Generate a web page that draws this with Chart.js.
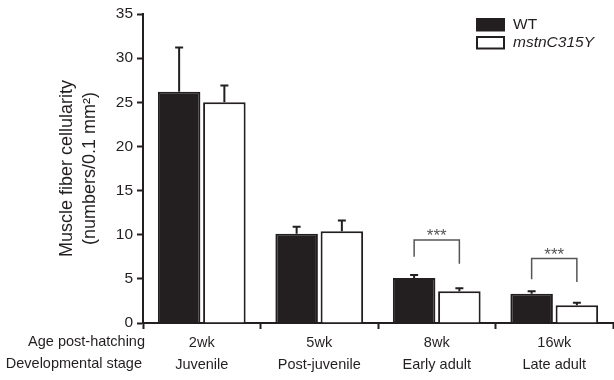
<!DOCTYPE html>
<html>
<head>
<meta charset="utf-8">
<script src="https://cdn.jsdelivr.net/npm/chart.js@4"></script>
<style>
  body { margin: 0; background: #fff; }
  #wrap { width: 614px; height: 380px; }
</style>
</head>
<body>
<div id="wrap"><canvas id="chart" width="614" height="380"></canvas></div>
<script>
const ages = ["2wk", "5wk", "8wk", "16wk"];
const stages = ["Juvenile", "Post-juvenile", "Early adult", "Late adult"];
const wtMean = [26.2, 10.1, 5.1, 3.3];
const wtSem = [5.0, 0.8, 0.35, 0.3];
const mutMean = [25.0, 10.4, 3.6, 2.0];
const mutSem = [1.9, 1.2, 0.35, 0.3];
const yTicks = [0, 5, 10, 15, 20, 25, 30, 35];

// significance brackets: category index, top of bracket, bottom of left / right legs
const sigIndex = [2, 3];
const sigTop = [9.4, 7.3];
const sigLeft = [7.5, 4.95];
const sigRight = [6.7, 4.65];
const sigText = ["***", "***"];

const ink = "#231f20";
const fontFamily = "'Liberation Sans', Arial, Helvetica, sans-serif";

const labels = ages.map((a, i) => [a, stages[i]]);

const errorBars = {
    id: "errorBars",
    afterDatasetsDraw(chart) {
        const ctx = chart.ctx;
        const y = chart.scales.y;
        const sems = [wtSem, mutSem];
        const means = [wtMean, mutMean];
        ctx.save();
        ctx.strokeStyle = ink;
        ctx.lineWidth = 2;
        chart.data.datasets.forEach((ds, d) => {
            const meta = chart.getDatasetMeta(d);
            meta.data.forEach((bar, i) => {
                const top = y.getPixelForValue(means[d][i] + sems[d][i]);
                const base = y.getPixelForValue(means[d][i]);
                ctx.beginPath();
                ctx.moveTo(bar.x, base);
                ctx.lineTo(bar.x, top);
                ctx.moveTo(bar.x - 4, top);
                ctx.lineTo(bar.x + 4, top);
                ctx.stroke();
            });
        });

        // brackets
        ctx.strokeStyle = "#555";
        ctx.lineWidth = 1.5;
        ctx.fillStyle = "#555";
        ctx.font = "17px " + fontFamily;
        ctx.textAlign = "center";
        ctx.textBaseline = "alphabetic";
        sigIndex.forEach((c, k) => {
            const x1 = chart.getDatasetMeta(0).data[c].x;
            const x2 = chart.getDatasetMeta(1).data[c].x;
            const yt = y.getPixelForValue(sigTop[k]);
            ctx.beginPath();
            ctx.moveTo(x1, y.getPixelForValue(sigLeft[k]));
            ctx.lineTo(x1, yt);
            ctx.lineTo(x2, yt);
            ctx.lineTo(x2, y.getPixelForValue(sigRight[k]));
            ctx.stroke();
            ctx.fillText(sigText[k], (x1 + x2) / 2, yt + 1);
        });

        // row headers under the x axis
        ctx.fillStyle = ink;
        ctx.font = "14.5px " + fontFamily;
        ctx.textAlign = "right";
        ctx.textBaseline = "middle";
        ctx.fillText("Age post-hatching", 145, 341.5);
        ctx.fillText("Developmental stage", 142, 363.5);

        // legend
        ctx.font = "15.5px " + fontFamily;
        ctx.textAlign = "left";
        ctx.fillStyle = ink;
        ctx.fillRect(476, 18, 29, 13.5);
        ctx.fillStyle = "#fff";
        ctx.fillRect(477, 36, 27, 13);
        ctx.strokeStyle = ink;
        ctx.lineWidth = 2;
        ctx.strokeRect(477, 37, 27, 11.5);
        ctx.fillStyle = ink;
        ctx.fillText("WT", 513, 25);
        ctx.font = "italic 15.5px " + fontFamily;
        ctx.fillText("mstnC315Y", 513, 43);
        ctx.restore();
    }
};

new Chart(document.getElementById("chart"), {
    type: "bar",
    data: {
        labels: labels,
        datasets: [
            {
                label: "WT",
                data: wtMean,
                backgroundColor: ink,
                borderColor: ink,
                borderWidth: 2,
                categoryPercentage: 0.77,
                barPercentage: 0.94
            },
            {
                label: "mstnC315Y",
                data: mutMean,
                backgroundColor: "#ffffff",
                borderColor: ink,
                borderWidth: 2,
                categoryPercentage: 0.77,
                barPercentage: 0.94
            }
        ]
    },
    options: {
        responsive: false,
        animation: false,
        layout: { padding: { top: 14, left: 0, right: 1, bottom: 0 } },
        plugins: {
            legend: { display: false },
            tooltip: { enabled: false }
        },
        scales: {
            x: {
                afterFit: s => { s.height = 57; },
                border: { color: ink, width: 2 },
                grid: { offset: true, drawOnChartArea: false, tickLength: 6, tickWidth: 2, tickColor: ink },
                ticks: {
                    color: ink,
                    padding: 3,
                    font: { family: fontFamily, size: 14.5, lineHeight: 1.52 },
                    maxRotation: 0,
                    autoSkip: false
                }
            },
            y: {
                min: 0,
                max: 35,
                afterFit: s => { s.width = 143; },
                afterBuildTicks: s => { s.ticks = yTicks.map(v => ({ value: v })); },
                border: { color: ink, width: 2 },
                grid: { drawOnChartArea: false, tickLength: 6, tickWidth: 2, tickColor: ink },
                ticks: {
                    color: ink,
                    padding: 4,
                    font: { family: fontFamily, size: 15.5 }
                },
                title: {
                    display: true,
                    text: ["Muscle fiber cellularity", "(numbers/0.1 mm\u00b2)"],
                    color: ink,
                    font: { family: fontFamily, size: 18, lineHeight: 1.25 },
                    padding: { top: 56, bottom: 0 }
                }
            }
        }
    },
    plugins: [errorBars]
});
</script>
</body>
</html>
